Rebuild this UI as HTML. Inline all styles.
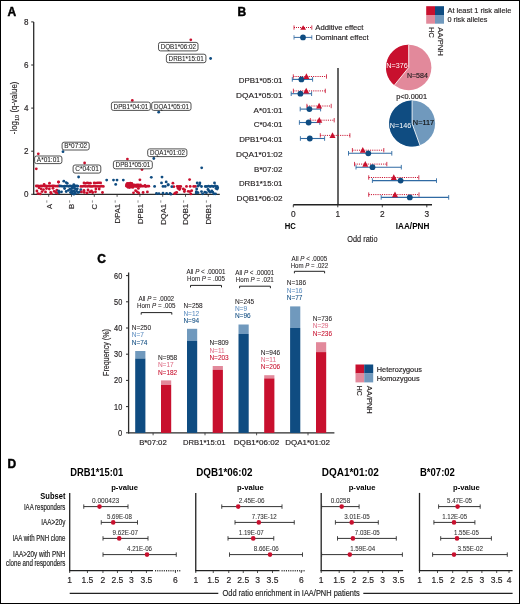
<!DOCTYPE html>
<html><head><meta charset="utf-8"><style>
html,body{margin:0;padding:0;background:#fff;}
svg{display:block;font-family:"Liberation Sans",sans-serif;will-change:transform;}
</style></head><body>
<svg width="520" height="604" viewBox="0 0 520 604">
<rect x="0" y="0" width="520" height="604" fill="#fff"/>
<text x="7.6" y="15.6" font-size="12" font-weight="bold" fill="#000" stroke="#000" stroke-width="0.45">A</text>
<line x1="33.7" y1="21.9" x2="33.7" y2="194.8" stroke="#2b2b2b" stroke-width="1.3"/>
<line x1="31.2" y1="194.3" x2="33.7" y2="194.3" stroke="#2b2b2b" stroke-width="1"/>
<text x="28.5" y="197.0" font-size="9.4" text-anchor="end" textLength="4.5" lengthAdjust="spacingAndGlyphs" fill="#231F20" stroke="#231F20" stroke-width="0.17">0</text>
<line x1="31.2" y1="151.20000000000002" x2="33.7" y2="151.20000000000002" stroke="#2b2b2b" stroke-width="1"/>
<text x="28.5" y="153.9" font-size="9.4" text-anchor="end" textLength="4.5" lengthAdjust="spacingAndGlyphs" fill="#231F20" stroke="#231F20" stroke-width="0.17">2</text>
<line x1="31.2" y1="108.10000000000001" x2="33.7" y2="108.10000000000001" stroke="#2b2b2b" stroke-width="1"/>
<text x="28.5" y="110.80000000000001" font-size="9.4" text-anchor="end" textLength="4.5" lengthAdjust="spacingAndGlyphs" fill="#231F20" stroke="#231F20" stroke-width="0.17">4</text>
<line x1="31.2" y1="65.0" x2="33.7" y2="65.0" stroke="#2b2b2b" stroke-width="1"/>
<text x="28.5" y="67.7" font-size="9.4" text-anchor="end" textLength="4.5" lengthAdjust="spacingAndGlyphs" fill="#231F20" stroke="#231F20" stroke-width="0.17">6</text>
<line x1="31.2" y1="21.900000000000006" x2="33.7" y2="21.900000000000006" stroke="#2b2b2b" stroke-width="1"/>
<text x="28.5" y="24.600000000000005" font-size="9.4" text-anchor="end" textLength="4.5" lengthAdjust="spacingAndGlyphs" fill="#231F20" stroke="#231F20" stroke-width="0.17">8</text>
<line x1="33.1" y1="194.3" x2="219.8" y2="194.3" stroke="#2b2b2b" stroke-width="1.3"/>
<line x1="48.7" y1="194.3" x2="48.7" y2="196.8" stroke="#2b2b2b" stroke-width="0.8"/>
<text transform="translate(51.5,203.9) rotate(-90)" font-size="7.7" text-anchor="end" fill="#231F20" stroke="#231F20" stroke-width="0.15">A</text>
<line x1="46.800000000000004" y1="200.3" x2="46.800000000000004" y2="202.7" stroke="#777" stroke-width="0.8"/>
<line x1="71.5" y1="194.3" x2="71.5" y2="196.8" stroke="#2b2b2b" stroke-width="0.8"/>
<text transform="translate(74.3,203.9) rotate(-90)" font-size="7.7" text-anchor="end" fill="#231F20" stroke="#231F20" stroke-width="0.15">B</text>
<line x1="69.6" y1="200.3" x2="69.6" y2="202.7" stroke="#777" stroke-width="0.8"/>
<line x1="94.30000000000001" y1="194.3" x2="94.30000000000001" y2="196.8" stroke="#2b2b2b" stroke-width="0.8"/>
<text transform="translate(97.1,203.9) rotate(-90)" font-size="7.7" text-anchor="end" fill="#231F20" stroke="#231F20" stroke-width="0.15">C</text>
<line x1="92.4" y1="200.3" x2="92.4" y2="202.7" stroke="#777" stroke-width="0.8"/>
<line x1="117.10000000000001" y1="194.3" x2="117.10000000000001" y2="196.8" stroke="#2b2b2b" stroke-width="0.8"/>
<text transform="translate(119.9,203.9) rotate(-90)" font-size="7.7" text-anchor="end" fill="#231F20" stroke="#231F20" stroke-width="0.15">DPA1</text>
<line x1="115.2" y1="200.3" x2="115.2" y2="202.7" stroke="#777" stroke-width="0.8"/>
<line x1="139.9" y1="194.3" x2="139.9" y2="196.8" stroke="#2b2b2b" stroke-width="0.8"/>
<text transform="translate(142.7,203.9) rotate(-90)" font-size="7.7" text-anchor="end" fill="#231F20" stroke="#231F20" stroke-width="0.15">DPB1</text>
<line x1="138.0" y1="200.3" x2="138.0" y2="202.7" stroke="#777" stroke-width="0.8"/>
<line x1="162.7" y1="194.3" x2="162.7" y2="196.8" stroke="#2b2b2b" stroke-width="0.8"/>
<text transform="translate(165.5,203.9) rotate(-90)" font-size="7.7" text-anchor="end" fill="#231F20" stroke="#231F20" stroke-width="0.15">DQA1</text>
<line x1="160.79999999999998" y1="200.3" x2="160.79999999999998" y2="202.7" stroke="#777" stroke-width="0.8"/>
<line x1="185.5" y1="194.3" x2="185.5" y2="196.8" stroke="#2b2b2b" stroke-width="0.8"/>
<text transform="translate(188.3,203.9) rotate(-90)" font-size="7.7" text-anchor="end" fill="#231F20" stroke="#231F20" stroke-width="0.15">DQB1</text>
<line x1="183.6" y1="200.3" x2="183.6" y2="202.7" stroke="#777" stroke-width="0.8"/>
<line x1="208.3" y1="194.3" x2="208.3" y2="196.8" stroke="#2b2b2b" stroke-width="0.8"/>
<text transform="translate(211.1,203.9) rotate(-90)" font-size="7.7" text-anchor="end" fill="#231F20" stroke="#231F20" stroke-width="0.15">DRB1</text>
<line x1="206.4" y1="200.3" x2="206.4" y2="202.7" stroke="#777" stroke-width="0.8"/>
<text transform="translate(17.4,107.9) rotate(-90)" font-size="8.3" text-anchor="middle" fill="#231F20" stroke="#231F20" stroke-width="0.15" textLength="52.6" lengthAdjust="spacingAndGlyphs">-log<tspan font-size="6" dy="1.6">10</tspan><tspan dy="-1.6"> (q-value)</tspan></text>
<circle cx="36.3" cy="186.0" r="1.42" fill="#C8102E"/>
<circle cx="37.9" cy="186.0" r="1.42" fill="#C8102E"/>
<circle cx="39.5" cy="186.1" r="1.42" fill="#C8102E"/>
<circle cx="41.1" cy="186.0" r="1.42" fill="#C8102E"/>
<circle cx="42.7" cy="186.1" r="1.42" fill="#C8102E"/>
<circle cx="44.3" cy="186.1" r="1.42" fill="#C8102E"/>
<circle cx="45.9" cy="186.0" r="1.42" fill="#C8102E"/>
<circle cx="47.5" cy="186.1" r="1.42" fill="#C8102E"/>
<circle cx="49.1" cy="186.0" r="1.42" fill="#C8102E"/>
<circle cx="50.7" cy="186.1" r="1.42" fill="#C8102E"/>
<circle cx="52.3" cy="186.0" r="1.42" fill="#C8102E"/>
<circle cx="53.9" cy="186.0" r="1.42" fill="#C8102E"/>
<circle cx="55.5" cy="186.1" r="1.42" fill="#C8102E"/>
<circle cx="57.1" cy="186.2" r="1.42" fill="#C8102E"/>
<circle cx="58.7" cy="186.0" r="1.42" fill="#C8102E"/>
<circle cx="44.1" cy="184.4" r="1.42" fill="#C8102E"/>
<circle cx="49.5" cy="183.2" r="1.42" fill="#C8102E"/>
<circle cx="58.5" cy="182.1" r="1.42" fill="#C8102E"/>
<circle cx="36.9" cy="191.0" r="1.42" fill="#C8102E"/>
<circle cx="38.0" cy="193.6" r="1.42" fill="#C8102E"/>
<circle cx="40.3" cy="193.9" r="1.42" fill="#C8102E"/>
<circle cx="42.1" cy="191.6" r="1.42" fill="#C8102E"/>
<circle cx="43.5" cy="189.6" r="1.42" fill="#C8102E"/>
<circle cx="45.5" cy="191.9" r="1.42" fill="#C8102E"/>
<circle cx="49.3" cy="189.0" r="1.42" fill="#C8102E"/>
<circle cx="50.7" cy="192.5" r="1.42" fill="#C8102E"/>
<circle cx="51.3" cy="193.6" r="1.42" fill="#C8102E"/>
<circle cx="54.2" cy="191.3" r="1.42" fill="#C8102E"/>
<circle cx="55.9" cy="192.5" r="1.42" fill="#C8102E"/>
<circle cx="57.7" cy="193.0" r="1.42" fill="#C8102E"/>
<circle cx="46.5" cy="188.5" r="1.42" fill="#C8102E"/>
<circle cx="41.0" cy="188.8" r="1.42" fill="#C8102E"/>
<circle cx="53.0" cy="188.3" r="1.42" fill="#C8102E"/>
<circle cx="56.8" cy="190.2" r="1.42" fill="#C8102E"/>
<circle cx="39.0" cy="187.8" r="1.42" fill="#C8102E"/>
<circle cx="59.8" cy="186.0" r="1.42" fill="#0F4C81"/>
<circle cx="61.5" cy="186.2" r="1.42" fill="#0F4C81"/>
<circle cx="63.2" cy="186.3" r="1.42" fill="#0F4C81"/>
<circle cx="64.9" cy="186.1" r="1.42" fill="#0F4C81"/>
<circle cx="66.6" cy="186.1" r="1.42" fill="#0F4C81"/>
<circle cx="68.3" cy="186.3" r="1.42" fill="#0F4C81"/>
<circle cx="70.0" cy="185.9" r="1.42" fill="#0F4C81"/>
<circle cx="71.7" cy="186.2" r="1.42" fill="#0F4C81"/>
<circle cx="73.4" cy="186.0" r="1.42" fill="#0F4C81"/>
<circle cx="75.1" cy="186.0" r="1.42" fill="#0F4C81"/>
<circle cx="76.8" cy="185.9" r="1.42" fill="#0F4C81"/>
<circle cx="63.8" cy="181.2" r="1.42" fill="#0F4C81"/>
<circle cx="66.2" cy="182.6" r="1.42" fill="#0F4C81"/>
<circle cx="67.3" cy="183.4" r="1.42" fill="#0F4C81"/>
<circle cx="73.8" cy="184.7" r="1.42" fill="#0F4C81"/>
<circle cx="77.8" cy="186.1" r="1.42" fill="#0F4C81"/>
<circle cx="64.6" cy="188.5" r="1.42" fill="#0F4C81"/>
<circle cx="70.0" cy="188.8" r="1.42" fill="#0F4C81"/>
<circle cx="72.2" cy="188.0" r="1.42" fill="#0F4C81"/>
<circle cx="74.3" cy="188.0" r="1.42" fill="#0F4C81"/>
<circle cx="75.4" cy="188.8" r="1.42" fill="#0F4C81"/>
<circle cx="77.3" cy="188.8" r="1.42" fill="#0F4C81"/>
<circle cx="80.8" cy="189.6" r="1.42" fill="#0F4C81"/>
<circle cx="58.7" cy="190.9" r="1.42" fill="#0F4C81"/>
<circle cx="61.5" cy="191.8" r="1.42" fill="#0F4C81"/>
<circle cx="66.2" cy="191.5" r="1.42" fill="#0F4C81"/>
<circle cx="68.4" cy="190.3" r="1.42" fill="#0F4C81"/>
<circle cx="70.5" cy="192.5" r="1.42" fill="#0F4C81"/>
<circle cx="72.2" cy="192.0" r="1.42" fill="#0F4C81"/>
<circle cx="73.8" cy="190.9" r="1.42" fill="#0F4C81"/>
<circle cx="74.8" cy="192.5" r="1.42" fill="#0F4C81"/>
<circle cx="76.5" cy="190.9" r="1.42" fill="#0F4C81"/>
<circle cx="78.0" cy="192.5" r="1.42" fill="#0F4C81"/>
<circle cx="79.7" cy="192.0" r="1.42" fill="#0F4C81"/>
<circle cx="72.2" cy="193.6" r="1.42" fill="#0F4C81"/>
<circle cx="73.8" cy="194.2" r="1.42" fill="#0F4C81"/>
<circle cx="75.4" cy="193.6" r="1.42" fill="#0F4C81"/>
<circle cx="59.2" cy="192.5" r="1.42" fill="#0F4C81"/>
<circle cx="71.5" cy="190.5" r="1.42" fill="#0F4C81"/>
<circle cx="58.5" cy="182.0" r="1.42" fill="#C8102E"/>
<circle cx="84.0" cy="183.0" r="1.42" fill="#C8102E"/>
<circle cx="85.6" cy="183.3" r="1.42" fill="#C8102E"/>
<circle cx="87.2" cy="182.9" r="1.42" fill="#C8102E"/>
<circle cx="88.8" cy="183.2" r="1.42" fill="#C8102E"/>
<circle cx="90.4" cy="183.2" r="1.42" fill="#C8102E"/>
<circle cx="94.2" cy="183.0" r="1.42" fill="#C8102E"/>
<circle cx="95.8" cy="183.1" r="1.42" fill="#C8102E"/>
<circle cx="97.4" cy="182.8" r="1.42" fill="#C8102E"/>
<circle cx="99.0" cy="182.8" r="1.42" fill="#C8102E"/>
<circle cx="100.6" cy="182.9" r="1.42" fill="#C8102E"/>
<circle cx="80.9" cy="186.4" r="1.42" fill="#C8102E"/>
<circle cx="82.5" cy="186.3" r="1.42" fill="#C8102E"/>
<circle cx="84.1" cy="186.2" r="1.42" fill="#C8102E"/>
<circle cx="85.7" cy="186.3" r="1.42" fill="#C8102E"/>
<circle cx="87.3" cy="186.3" r="1.42" fill="#C8102E"/>
<circle cx="88.9" cy="186.2" r="1.42" fill="#C8102E"/>
<circle cx="90.5" cy="186.4" r="1.42" fill="#C8102E"/>
<circle cx="92.1" cy="186.4" r="1.42" fill="#C8102E"/>
<circle cx="93.7" cy="186.2" r="1.42" fill="#C8102E"/>
<circle cx="95.3" cy="186.3" r="1.42" fill="#C8102E"/>
<circle cx="96.9" cy="186.3" r="1.42" fill="#C8102E"/>
<circle cx="98.5" cy="186.4" r="1.42" fill="#C8102E"/>
<circle cx="100.1" cy="186.4" r="1.42" fill="#C8102E"/>
<circle cx="101.7" cy="186.2" r="1.42" fill="#C8102E"/>
<circle cx="103.3" cy="186.4" r="1.42" fill="#C8102E"/>
<circle cx="81.5" cy="191.9" r="1.42" fill="#C8102E"/>
<circle cx="84.3" cy="192.4" r="1.42" fill="#C8102E"/>
<circle cx="87.1" cy="192.9" r="1.42" fill="#C8102E"/>
<circle cx="89.9" cy="191.9" r="1.42" fill="#C8102E"/>
<circle cx="92.7" cy="192.5" r="1.42" fill="#C8102E"/>
<circle cx="95.5" cy="191.8" r="1.42" fill="#C8102E"/>
<circle cx="95.9" cy="189.0" r="1.42" fill="#C8102E"/>
<circle cx="99.2" cy="189.0" r="1.42" fill="#C8102E"/>
<circle cx="102.5" cy="192.5" r="1.42" fill="#C8102E"/>
<circle cx="88.0" cy="190.0" r="1.42" fill="#C8102E"/>
<circle cx="84.0" cy="190.5" r="1.42" fill="#C8102E"/>
<circle cx="91.5" cy="191.0" r="1.42" fill="#C8102E"/>
<circle cx="106.7" cy="180.1" r="1.42" fill="#0F4C81"/>
<circle cx="113.5" cy="180.1" r="1.42" fill="#0F4C81"/>
<circle cx="117.0" cy="180.1" r="1.42" fill="#0F4C81"/>
<circle cx="123.3" cy="180.1" r="1.42" fill="#0F4C81"/>
<circle cx="115.7" cy="184.4" r="1.42" fill="#0F4C81"/>
<circle cx="127.3" cy="183.3" r="1.42" fill="#C8102E"/>
<circle cx="128.8" cy="183.4" r="1.42" fill="#C8102E"/>
<circle cx="130.3" cy="183.2" r="1.42" fill="#C8102E"/>
<circle cx="131.8" cy="183.4" r="1.42" fill="#C8102E"/>
<circle cx="126.5" cy="184.7" r="1.42" fill="#C8102E"/>
<circle cx="128.0" cy="184.9" r="1.42" fill="#C8102E"/>
<circle cx="129.5" cy="184.9" r="1.42" fill="#C8102E"/>
<circle cx="131.0" cy="184.8" r="1.42" fill="#C8102E"/>
<circle cx="132.5" cy="184.8" r="1.42" fill="#C8102E"/>
<circle cx="134.0" cy="185.0" r="1.42" fill="#C8102E"/>
<circle cx="135.5" cy="185.1" r="1.42" fill="#C8102E"/>
<circle cx="137.0" cy="184.8" r="1.42" fill="#C8102E"/>
<circle cx="138.5" cy="184.9" r="1.42" fill="#C8102E"/>
<circle cx="126.3" cy="186.1" r="1.42" fill="#C8102E"/>
<circle cx="127.8" cy="186.5" r="1.42" fill="#C8102E"/>
<circle cx="129.3" cy="186.5" r="1.42" fill="#C8102E"/>
<circle cx="130.8" cy="186.7" r="1.42" fill="#C8102E"/>
<circle cx="132.3" cy="186.6" r="1.42" fill="#C8102E"/>
<circle cx="133.8" cy="186.3" r="1.42" fill="#C8102E"/>
<circle cx="135.3" cy="186.3" r="1.42" fill="#C8102E"/>
<circle cx="136.8" cy="186.5" r="1.42" fill="#C8102E"/>
<circle cx="138.3" cy="186.1" r="1.42" fill="#C8102E"/>
<circle cx="139.8" cy="186.4" r="1.42" fill="#C8102E"/>
<circle cx="141.3" cy="186.2" r="1.42" fill="#C8102E"/>
<circle cx="142.8" cy="186.2" r="1.42" fill="#C8102E"/>
<circle cx="144.3" cy="186.1" r="1.42" fill="#C8102E"/>
<circle cx="145.8" cy="186.6" r="1.42" fill="#C8102E"/>
<circle cx="147.3" cy="186.2" r="1.42" fill="#C8102E"/>
<circle cx="148.8" cy="186.2" r="1.42" fill="#C8102E"/>
<circle cx="128.0" cy="187.3" r="1.42" fill="#C8102E"/>
<circle cx="129.6" cy="187.6" r="1.42" fill="#C8102E"/>
<circle cx="131.2" cy="187.1" r="1.42" fill="#C8102E"/>
<circle cx="132.8" cy="187.4" r="1.42" fill="#C8102E"/>
<circle cx="139.9" cy="179.8" r="1.42" fill="#C8102E"/>
<circle cx="138.4" cy="188.4" r="1.42" fill="#C8102E"/>
<circle cx="133.5" cy="192.8" r="1.42" fill="#C8102E"/>
<circle cx="135.6" cy="190.7" r="1.42" fill="#C8102E"/>
<circle cx="137.3" cy="191.9" r="1.42" fill="#C8102E"/>
<circle cx="138.7" cy="193.0" r="1.42" fill="#C8102E"/>
<circle cx="143.1" cy="192.5" r="1.42" fill="#C8102E"/>
<circle cx="147.4" cy="191.9" r="1.42" fill="#C8102E"/>
<circle cx="140.5" cy="185.0" r="1.42" fill="#C8102E"/>
<circle cx="145.0" cy="185.5" r="1.42" fill="#C8102E"/>
<circle cx="151.3" cy="177.3" r="1.42" fill="#0F4C81"/>
<circle cx="154.6" cy="186.4" r="1.42" fill="#0F4C81"/>
<circle cx="156.5" cy="193.5" r="1.42" fill="#0F4C81"/>
<circle cx="162.0" cy="177.1" r="1.42" fill="#0F4C81"/>
<circle cx="161.5" cy="182.9" r="1.42" fill="#0F4C81"/>
<circle cx="166.2" cy="181.9" r="1.42" fill="#0F4C81"/>
<circle cx="163.0" cy="186.4" r="1.42" fill="#0F4C81"/>
<circle cx="165.2" cy="186.4" r="1.42" fill="#0F4C81"/>
<circle cx="168.0" cy="185.0" r="1.42" fill="#0F4C81"/>
<circle cx="163.0" cy="193.2" r="1.42" fill="#0F4C81"/>
<circle cx="166.6" cy="193.5" r="1.42" fill="#0F4C81"/>
<circle cx="159.0" cy="193.6" r="1.42" fill="#0F4C81"/>
<circle cx="170.0" cy="193.3" r="1.42" fill="#0F4C81"/>
<circle cx="172.9" cy="183.2" r="1.42" fill="#C8102E"/>
<circle cx="173.8" cy="186.7" r="1.42" fill="#C8102E"/>
<circle cx="177.2" cy="186.4" r="1.42" fill="#C8102E"/>
<circle cx="179.0" cy="186.4" r="1.42" fill="#C8102E"/>
<circle cx="180.7" cy="186.4" r="1.42" fill="#C8102E"/>
<circle cx="186.5" cy="186.4" r="1.42" fill="#C8102E"/>
<circle cx="190.2" cy="186.4" r="1.42" fill="#C8102E"/>
<circle cx="193.7" cy="186.4" r="1.42" fill="#C8102E"/>
<circle cx="195.4" cy="186.4" r="1.42" fill="#C8102E"/>
<circle cx="178.1" cy="188.4" r="1.42" fill="#C8102E"/>
<circle cx="179.5" cy="189.6" r="1.42" fill="#C8102E"/>
<circle cx="183.3" cy="189.0" r="1.42" fill="#C8102E"/>
<circle cx="184.7" cy="189.8" r="1.42" fill="#C8102E"/>
<circle cx="184.4" cy="191.6" r="1.42" fill="#C8102E"/>
<circle cx="188.2" cy="191.3" r="1.42" fill="#C8102E"/>
<circle cx="189.9" cy="191.6" r="1.42" fill="#C8102E"/>
<circle cx="191.7" cy="190.7" r="1.42" fill="#C8102E"/>
<circle cx="190.8" cy="193.9" r="1.42" fill="#C8102E"/>
<circle cx="175.5" cy="193.0" r="1.42" fill="#C8102E"/>
<circle cx="176.7" cy="192.4" r="1.42" fill="#C8102E"/>
<circle cx="174.6" cy="193.6" r="1.42" fill="#C8102E"/>
<circle cx="178.5" cy="187.5" r="1.42" fill="#C8102E"/>
<circle cx="180.0" cy="188.5" r="1.42" fill="#C8102E"/>
<circle cx="168.3" cy="184.7" r="1.42" fill="#0F4C81"/>
<circle cx="171.8" cy="186.7" r="1.42" fill="#0F4C81"/>
<circle cx="170.9" cy="194.2" r="1.42" fill="#0F4C81"/>
<circle cx="197.2" cy="183.0" r="1.42" fill="#0F4C81"/>
<circle cx="199.9" cy="183.0" r="1.42" fill="#0F4C81"/>
<circle cx="214.5" cy="183.0" r="1.42" fill="#0F4C81"/>
<circle cx="198.0" cy="186.0" r="1.42" fill="#0F4C81"/>
<circle cx="201.5" cy="186.5" r="1.42" fill="#0F4C81"/>
<circle cx="205.3" cy="186.5" r="1.42" fill="#0F4C81"/>
<circle cx="206.9" cy="186.5" r="1.42" fill="#0F4C81"/>
<circle cx="208.5" cy="186.2" r="1.42" fill="#0F4C81"/>
<circle cx="210.2" cy="186.5" r="1.42" fill="#0F4C81"/>
<circle cx="211.8" cy="186.2" r="1.42" fill="#0F4C81"/>
<circle cx="213.4" cy="186.5" r="1.42" fill="#0F4C81"/>
<circle cx="215.3" cy="186.0" r="1.42" fill="#0F4C81"/>
<circle cx="217.2" cy="186.5" r="1.42" fill="#0F4C81"/>
<circle cx="217.7" cy="187.8" r="1.42" fill="#0F4C81"/>
<circle cx="199.5" cy="185.0" r="1.42" fill="#0F4C81"/>
<circle cx="196.7" cy="188.9" r="1.42" fill="#0F4C81"/>
<circle cx="196.4" cy="191.6" r="1.42" fill="#0F4C81"/>
<circle cx="196.2" cy="193.0" r="1.42" fill="#0F4C81"/>
<circle cx="198.0" cy="192.7" r="1.42" fill="#0F4C81"/>
<circle cx="201.5" cy="191.6" r="1.42" fill="#0F4C81"/>
<circle cx="202.6" cy="193.8" r="1.42" fill="#0F4C81"/>
<circle cx="204.8" cy="192.2" r="1.42" fill="#0F4C81"/>
<circle cx="206.4" cy="192.7" r="1.42" fill="#0F4C81"/>
<circle cx="208.0" cy="189.5" r="1.42" fill="#0F4C81"/>
<circle cx="209.0" cy="191.0" r="1.42" fill="#0F4C81"/>
<circle cx="210.2" cy="192.2" r="1.42" fill="#0F4C81"/>
<circle cx="211.8" cy="191.0" r="1.42" fill="#0F4C81"/>
<circle cx="212.8" cy="192.2" r="1.42" fill="#0F4C81"/>
<circle cx="213.9" cy="193.8" r="1.42" fill="#0F4C81"/>
<circle cx="215.5" cy="193.8" r="1.42" fill="#0F4C81"/>
<circle cx="216.0" cy="188.4" r="1.42" fill="#0F4C81"/>
<circle cx="217.2" cy="189.0" r="1.42" fill="#0F4C81"/>
<circle cx="78.6" cy="177.0" r="1.4" fill="#0F4C81"/>
<circle cx="201.7" cy="167.8" r="1.4" fill="#0F4C81"/>
<circle cx="63.0" cy="151.7" r="1.4" fill="#0F4C81"/>
<circle cx="153.8" cy="158.5" r="1.4" fill="#0F4C81"/>
<circle cx="158.7" cy="112.2" r="1.4" fill="#0F4C81"/>
<circle cx="210.6" cy="58.5" r="1.4" fill="#0F4C81"/>
<circle cx="189.6" cy="179.6" r="1.4" fill="#C8102E"/>
<circle cx="38.3" cy="153.8" r="1.4" fill="#C8102E"/>
<circle cx="36.3" cy="168.8" r="1.4" fill="#C8102E"/>
<circle cx="84.6" cy="163.0" r="1.4" fill="#C8102E"/>
<circle cx="127.4" cy="159.1" r="1.4" fill="#C8102E"/>
<circle cx="142.0" cy="169.5" r="1.4" fill="#C8102E"/>
<circle cx="132.3" cy="100.4" r="1.4" fill="#C8102E"/>
<circle cx="190.8" cy="39.8" r="1.4" fill="#C8102E"/>
<rect x="158.5" y="42.4" width="39.5" height="8.5" rx="2" fill="#fff" stroke="#333" stroke-width="0.85"/>
<text x="178.35" y="49.0" font-size="6.99" text-anchor="middle" textLength="35.3" lengthAdjust="spacingAndGlyphs" fill="#222" stroke="#222" stroke-width="0.07">DQB1*06:02</text>
<rect x="166.4" y="54.2" width="39.5" height="8.5" rx="2" fill="#fff" stroke="#333" stroke-width="0.85"/>
<text x="186.25" y="60.800000000000004" font-size="6.99" text-anchor="middle" textLength="35.3" lengthAdjust="spacingAndGlyphs" fill="#222" stroke="#222" stroke-width="0.07">DRB1*15:01</text>
<rect x="111.4" y="102.1" width="38.900000000000006" height="8.300000000000011" rx="2" fill="#fff" stroke="#333" stroke-width="0.85"/>
<text x="130.95000000000002" y="108.5" font-size="6.99" text-anchor="middle" textLength="34.7" lengthAdjust="spacingAndGlyphs" fill="#222" stroke="#222" stroke-width="0.07">DPB1*04:01</text>
<rect x="151.7" y="102.1" width="39.30000000000001" height="8.300000000000011" rx="2" fill="#fff" stroke="#333" stroke-width="0.85"/>
<text x="171.45" y="108.5" font-size="6.99" text-anchor="middle" textLength="35.1" lengthAdjust="spacingAndGlyphs" fill="#222" stroke="#222" stroke-width="0.07">DQA1*05:01</text>
<rect x="62.1" y="142.2" width="27.1" height="7.800000000000011" rx="2" fill="#fff" stroke="#333" stroke-width="0.85"/>
<text x="75.75" y="148.1" font-size="6.99" text-anchor="middle" textLength="22.9" lengthAdjust="spacingAndGlyphs" fill="#222" stroke="#222" stroke-width="0.07">B*07:02</text>
<rect x="34.6" y="156" width="27.299999999999997" height="7.599999999999994" rx="2" fill="#fff" stroke="#333" stroke-width="0.85"/>
<text x="48.35" y="161.7" font-size="6.99" text-anchor="middle" textLength="23.1" lengthAdjust="spacingAndGlyphs" fill="#222" stroke="#222" stroke-width="0.07">A*01:01</text>
<rect x="73.1" y="165" width="27.700000000000003" height="8.099999999999994" rx="2" fill="#fff" stroke="#333" stroke-width="0.85"/>
<text x="87.04999999999998" y="171.2" font-size="6.99" text-anchor="middle" textLength="23.5" lengthAdjust="spacingAndGlyphs" fill="#222" stroke="#222" stroke-width="0.07">C*04:01</text>
<rect x="147.7" y="148.9" width="39.20000000000002" height="7.699999999999989" rx="2" fill="#fff" stroke="#333" stroke-width="0.85"/>
<text x="167.4" y="154.7" font-size="6.99" text-anchor="middle" textLength="35.0" lengthAdjust="spacingAndGlyphs" fill="#222" stroke="#222" stroke-width="0.07">DQA1*01:02</text>
<rect x="113.4" y="160.8" width="38.900000000000006" height="8.0" rx="2" fill="#fff" stroke="#333" stroke-width="0.85"/>
<text x="132.95000000000002" y="166.9" font-size="6.99" text-anchor="middle" textLength="34.7" lengthAdjust="spacingAndGlyphs" fill="#222" stroke="#222" stroke-width="0.07">DPB1*05:01</text>
<text x="237.6" y="15.7" font-size="12" font-weight="bold" fill="#000" stroke="#000" stroke-width="0.45">B</text>
<line x1="294" y1="27.5" x2="312" y2="27.5" stroke="#C8102E" stroke-width="1" stroke-dasharray="1,1"/>
<line x1="294" y1="25.4" x2="294" y2="29.7" stroke="#C8102E" stroke-width="0.8"/>
<line x1="311.8" y1="25.4" x2="311.8" y2="29.7" stroke="#C8102E" stroke-width="0.8"/>
<polygon points="300.2,29.7 306.1,29.7 303.15,25.2" fill="#C8102E"/>
<text x="315.3" y="29.9" font-size="7.6" textLength="48" lengthAdjust="spacingAndGlyphs" fill="#231F20" stroke="#231F20" stroke-width="0.17">Additive effect</text>
<line x1="294" y1="37.4" x2="312" y2="37.4" stroke="#3a6ea5" stroke-width="1"/>
<line x1="294" y1="35.2" x2="294" y2="39.6" stroke="#3a6ea5" stroke-width="0.8"/>
<line x1="311.8" y1="35.2" x2="311.8" y2="39.6" stroke="#3a6ea5" stroke-width="0.8"/>
<circle cx="303.0" cy="37.4" r="2.9" fill="#0F4C81"/>
<text x="315.5" y="39.9" font-size="7.6" textLength="53" lengthAdjust="spacingAndGlyphs" fill="#231F20" stroke="#231F20" stroke-width="0.17">Dominant effect</text>
<text x="282.5" y="83.10000000000001" font-size="8.1" text-anchor="end" textLength="43.7" lengthAdjust="spacingAndGlyphs" fill="#231F20" stroke="#231F20" stroke-width="0.17">DPB1*05:01</text>
<text x="282.5" y="97.8" font-size="8.1" text-anchor="end" textLength="46.5" lengthAdjust="spacingAndGlyphs" fill="#231F20" stroke="#231F20" stroke-width="0.17">DQA1*05:01</text>
<text x="282.5" y="112.7" font-size="8.1" text-anchor="end" textLength="28.9" lengthAdjust="spacingAndGlyphs" fill="#231F20" stroke="#231F20" stroke-width="0.17">A*01:01</text>
<text x="282.5" y="127.4" font-size="8.1" text-anchor="end" textLength="28.7" lengthAdjust="spacingAndGlyphs" fill="#231F20" stroke="#231F20" stroke-width="0.17">C*04:01</text>
<text x="282.5" y="142.29999999999998" font-size="8.1" text-anchor="end" textLength="43.3" lengthAdjust="spacingAndGlyphs" fill="#231F20" stroke="#231F20" stroke-width="0.17">DPB1*04:01</text>
<text x="282.5" y="157.1" font-size="8.1" text-anchor="end" textLength="46.5" lengthAdjust="spacingAndGlyphs" fill="#231F20" stroke="#231F20" stroke-width="0.17">DQA1*01:02</text>
<text x="282.5" y="171.7" font-size="8.1" text-anchor="end" textLength="28.4" lengthAdjust="spacingAndGlyphs" fill="#231F20" stroke="#231F20" stroke-width="0.17">B*07:02</text>
<text x="282.5" y="186.1" font-size="8.1" text-anchor="end" textLength="43.6" lengthAdjust="spacingAndGlyphs" fill="#231F20" stroke="#231F20" stroke-width="0.17">DRB1*15:01</text>
<text x="282.5" y="200.89999999999998" font-size="8.1" text-anchor="end" textLength="46.0" lengthAdjust="spacingAndGlyphs" fill="#231F20" stroke="#231F20" stroke-width="0.17">DQB1*06:02</text>
<line x1="338" y1="68" x2="338" y2="205" stroke="#555" stroke-width="1.8"/>
<line x1="293.3" y1="76.5" x2="326.5" y2="76.5" stroke="#C8102E" stroke-width="1" stroke-dasharray="1.1,1.1"/>
<line x1="293.3" y1="74.3" x2="293.3" y2="78.7" stroke="#C8102E" stroke-width="0.8"/>
<line x1="326.5" y1="74.3" x2="326.5" y2="78.7" stroke="#C8102E" stroke-width="0.8"/>
<line x1="292.3" y1="79.4" x2="312.6" y2="79.4" stroke="#2f6aa3" stroke-width="1.1"/>
<line x1="292.3" y1="77.10000000000001" x2="292.3" y2="81.7" stroke="#2f6aa3" stroke-width="0.9"/>
<line x1="312.6" y1="77.10000000000001" x2="312.6" y2="81.7" stroke="#2f6aa3" stroke-width="0.9"/>
<circle cx="301.4" cy="79.4" r="2.9" fill="#0F4C81"/>
<polygon points="303.4,79.1 309.4,79.1 306.4,73.3" fill="#C8102E"/>
<line x1="293.4" y1="90.9" x2="325.3" y2="90.9" stroke="#C8102E" stroke-width="1" stroke-dasharray="1.1,1.1"/>
<line x1="293.4" y1="88.7" x2="293.4" y2="93.10000000000001" stroke="#C8102E" stroke-width="0.8"/>
<line x1="325.3" y1="88.7" x2="325.3" y2="93.10000000000001" stroke="#C8102E" stroke-width="0.8"/>
<line x1="291.2" y1="93.7" x2="311.6" y2="93.7" stroke="#2f6aa3" stroke-width="1.1"/>
<line x1="291.2" y1="91.4" x2="291.2" y2="96.0" stroke="#2f6aa3" stroke-width="0.9"/>
<line x1="311.6" y1="91.4" x2="311.6" y2="96.0" stroke="#2f6aa3" stroke-width="0.9"/>
<circle cx="300.4" cy="93.7" r="2.9" fill="#0F4C81"/>
<polygon points="303.2,93.5 309.2,93.5 306.2,87.7" fill="#C8102E"/>
<line x1="306.9" y1="106" x2="331.2" y2="106" stroke="#C8102E" stroke-width="1" stroke-dasharray="1.1,1.1"/>
<line x1="306.9" y1="103.8" x2="306.9" y2="108.2" stroke="#C8102E" stroke-width="0.8"/>
<line x1="331.2" y1="103.8" x2="331.2" y2="108.2" stroke="#C8102E" stroke-width="0.8"/>
<line x1="300.2" y1="109.1" x2="320.6" y2="109.1" stroke="#2f6aa3" stroke-width="1.1"/>
<line x1="300.2" y1="106.8" x2="300.2" y2="111.39999999999999" stroke="#2f6aa3" stroke-width="0.9"/>
<line x1="320.6" y1="106.8" x2="320.6" y2="111.39999999999999" stroke="#2f6aa3" stroke-width="0.9"/>
<circle cx="309.4" cy="109.1" r="2.9" fill="#0F4C81"/>
<polygon points="316.1,108.6 322.1,108.6 319.1,102.8" fill="#C8102E"/>
<line x1="310.3" y1="120.2" x2="334.2" y2="120.2" stroke="#C8102E" stroke-width="1" stroke-dasharray="1.1,1.1"/>
<line x1="310.3" y1="118.0" x2="310.3" y2="122.4" stroke="#C8102E" stroke-width="0.8"/>
<line x1="334.2" y1="118.0" x2="334.2" y2="122.4" stroke="#C8102E" stroke-width="0.8"/>
<line x1="299.4" y1="122.5" x2="319.8" y2="122.5" stroke="#2f6aa3" stroke-width="1.1"/>
<line x1="299.4" y1="120.2" x2="299.4" y2="124.8" stroke="#2f6aa3" stroke-width="0.9"/>
<line x1="319.8" y1="120.2" x2="319.8" y2="124.8" stroke="#2f6aa3" stroke-width="0.9"/>
<circle cx="308.6" cy="122.5" r="2.9" fill="#0F4C81"/>
<polygon points="316.3,122.8 322.3,122.8 319.3,117.0" fill="#C8102E"/>
<line x1="320.3" y1="135.4" x2="349.9" y2="135.4" stroke="#C8102E" stroke-width="1" stroke-dasharray="1.1,1.1"/>
<line x1="320.3" y1="133.20000000000002" x2="320.3" y2="137.6" stroke="#C8102E" stroke-width="0.8"/>
<line x1="349.9" y1="133.20000000000002" x2="349.9" y2="137.6" stroke="#C8102E" stroke-width="0.8"/>
<line x1="300.4" y1="138.5" x2="324.6" y2="138.5" stroke="#2f6aa3" stroke-width="1.1"/>
<line x1="300.4" y1="136.2" x2="300.4" y2="140.8" stroke="#2f6aa3" stroke-width="0.9"/>
<line x1="324.6" y1="136.2" x2="324.6" y2="140.8" stroke="#2f6aa3" stroke-width="0.9"/>
<circle cx="309.8" cy="138.5" r="2.9" fill="#0F4C81"/>
<polygon points="329.5,138.0 335.5,138.0 332.5,132.2" fill="#C8102E"/>
<line x1="352.4" y1="150.2" x2="383.8" y2="150.2" stroke="#C8102E" stroke-width="1" stroke-dasharray="1.1,1.1"/>
<line x1="352.4" y1="148.0" x2="352.4" y2="152.39999999999998" stroke="#C8102E" stroke-width="0.8"/>
<line x1="383.8" y1="148.0" x2="383.8" y2="152.39999999999998" stroke="#C8102E" stroke-width="0.8"/>
<line x1="348.5" y1="153.3" x2="391.8" y2="153.3" stroke="#2f6aa3" stroke-width="1.1"/>
<line x1="348.5" y1="151.0" x2="348.5" y2="155.60000000000002" stroke="#2f6aa3" stroke-width="0.9"/>
<line x1="391.8" y1="151.0" x2="391.8" y2="155.60000000000002" stroke="#2f6aa3" stroke-width="0.9"/>
<circle cx="368.3" cy="153.3" r="2.9" fill="#0F4C81"/>
<polygon points="359.8,152.8 365.8,152.8 362.8,147.0" fill="#C8102E"/>
<line x1="354.5" y1="164.1" x2="386.8" y2="164.1" stroke="#C8102E" stroke-width="1" stroke-dasharray="1.1,1.1"/>
<line x1="354.5" y1="161.9" x2="354.5" y2="166.29999999999998" stroke="#C8102E" stroke-width="0.8"/>
<line x1="386.8" y1="161.9" x2="386.8" y2="166.29999999999998" stroke="#C8102E" stroke-width="0.8"/>
<line x1="356" y1="167.2" x2="401.3" y2="167.2" stroke="#2f6aa3" stroke-width="1.1"/>
<line x1="356" y1="164.89999999999998" x2="356" y2="169.5" stroke="#2f6aa3" stroke-width="0.9"/>
<line x1="401.3" y1="164.89999999999998" x2="401.3" y2="169.5" stroke="#2f6aa3" stroke-width="0.9"/>
<circle cx="372.5" cy="167.2" r="2.9" fill="#0F4C81"/>
<polygon points="362.3,166.7 368.3,166.7 365.3,160.9" fill="#C8102E"/>
<line x1="368.7" y1="177.5" x2="418.8" y2="177.5" stroke="#C8102E" stroke-width="1" stroke-dasharray="1.1,1.1"/>
<line x1="368.7" y1="175.3" x2="368.7" y2="179.7" stroke="#C8102E" stroke-width="0.8"/>
<line x1="418.8" y1="175.3" x2="418.8" y2="179.7" stroke="#C8102E" stroke-width="0.8"/>
<line x1="372.4" y1="180.6" x2="436.5" y2="180.6" stroke="#2f6aa3" stroke-width="1.1"/>
<line x1="372.4" y1="178.29999999999998" x2="372.4" y2="182.9" stroke="#2f6aa3" stroke-width="0.9"/>
<line x1="436.5" y1="178.29999999999998" x2="436.5" y2="182.9" stroke="#2f6aa3" stroke-width="0.9"/>
<circle cx="400.6" cy="180.6" r="2.9" fill="#0F4C81"/>
<polygon points="390.8,180.1 396.8,180.1 393.8,174.3" fill="#C8102E"/>
<line x1="368.7" y1="194.6" x2="419" y2="194.6" stroke="#C8102E" stroke-width="1" stroke-dasharray="1.1,1.1"/>
<line x1="368.7" y1="192.4" x2="368.7" y2="196.79999999999998" stroke="#C8102E" stroke-width="0.8"/>
<line x1="419" y1="192.4" x2="419" y2="196.79999999999998" stroke="#C8102E" stroke-width="0.8"/>
<line x1="381.2" y1="197.4" x2="448.7" y2="197.4" stroke="#2f6aa3" stroke-width="1.1"/>
<line x1="381.2" y1="195.1" x2="381.2" y2="199.70000000000002" stroke="#2f6aa3" stroke-width="0.9"/>
<line x1="448.7" y1="195.1" x2="448.7" y2="199.70000000000002" stroke="#2f6aa3" stroke-width="0.9"/>
<circle cx="409.8" cy="197.4" r="2.9" fill="#0F4C81"/>
<polygon points="392.0,197.2 398.0,197.2 395.0,191.4" fill="#C8102E"/>
<line x1="293.3" y1="204.8" x2="432" y2="204.8" stroke="#222" stroke-width="1.4"/>
<line x1="293.3" y1="204.8" x2="293.3" y2="207.3" stroke="#222" stroke-width="0.9"/>
<text x="293.3" y="217" font-size="8.3" text-anchor="middle" fill="#231F20" stroke="#231F20" stroke-width="0.17">0</text>
<line x1="337.8" y1="204.8" x2="337.8" y2="207.3" stroke="#222" stroke-width="0.9"/>
<text x="337.8" y="217" font-size="8.3" text-anchor="middle" fill="#231F20" stroke="#231F20" stroke-width="0.17">1</text>
<line x1="382.3" y1="204.8" x2="382.3" y2="207.3" stroke="#222" stroke-width="0.9"/>
<text x="382.3" y="217" font-size="8.3" text-anchor="middle" fill="#231F20" stroke="#231F20" stroke-width="0.17">2</text>
<line x1="426.8" y1="204.8" x2="426.8" y2="207.3" stroke="#222" stroke-width="0.9"/>
<text x="426.8" y="217" font-size="8.3" text-anchor="middle" fill="#231F20" stroke="#231F20" stroke-width="0.17">3</text>
<text x="284.8" y="228.6" font-size="8.4" textLength="11.1" lengthAdjust="spacingAndGlyphs" font-weight="bold" fill="#000">HC</text>
<text x="395.8" y="228.5" font-size="8.4" textLength="33.6" lengthAdjust="spacingAndGlyphs" font-weight="bold" fill="#000">IAA/PNH</text>
<text x="347.3" y="241.5" font-size="9.3" textLength="30.2" lengthAdjust="spacingAndGlyphs" fill="#231F20" stroke="#231F20" stroke-width="0.17">Odd ratio</text>
<circle cx="408.7" cy="67.5" r="22.7" fill="#E2899B"/>
<path d="M408.7,67.5 L408.7,44.8 A22.7,22.7 0 0 0 394.41,85.14 Z" fill="#C8102E"/>
<path d="M394.41,85.14 L408.7,67.5 L408.7,44.8" fill="none" stroke="#fff" stroke-width="1" stroke-opacity="0.85"/>
<circle cx="412.1" cy="123.6" r="23" fill="#7099BD"/>
<path d="M412.1,123.6 L412.1,100.6 A23,23 0 1 0 419.91,145.23 Z" fill="#0F4C81"/>
<path d="M419.91,145.23 L412.1,123.6 L412.1,100.6" fill="none" stroke="#fff" stroke-width="1" stroke-opacity="0.85"/>
<text x="397" y="68.2" font-size="7.4" text-anchor="middle" textLength="21.4" lengthAdjust="spacingAndGlyphs" fill="#fff">N=376</text>
<text x="417.4" y="77.6" font-size="7.4" text-anchor="middle" textLength="21" lengthAdjust="spacingAndGlyphs" fill="#231F20" stroke="#231F20" stroke-width="0.17">N=584</text>
<text x="411.6" y="99.3" font-size="8" text-anchor="middle" textLength="30.9" lengthAdjust="spacingAndGlyphs" fill="#231F20" stroke="#231F20" stroke-width="0.17">p&lt;0.0001</text>
<text x="400.5" y="127.7" font-size="7.4" text-anchor="middle" textLength="21.4" lengthAdjust="spacingAndGlyphs" fill="#fff">N=146</text>
<text x="423.5" y="124.8" font-size="7.4" text-anchor="middle" textLength="21.3" lengthAdjust="spacingAndGlyphs" fill="#111" stroke="#111" stroke-width="0.17">N=117</text>
<rect x="426.2" y="6.2" width="8.8" height="8.8" fill="#C8102E"/>
<rect x="435" y="6.2" width="9" height="8.8" fill="#0F4C81"/>
<rect x="426.2" y="15" width="8.8" height="8.7" fill="#E2899B"/>
<rect x="435" y="15" width="9" height="8.7" fill="#7099BD"/>
<text x="447.5" y="12.7" font-size="7.6" textLength="63.8" lengthAdjust="spacingAndGlyphs" fill="#231F20" stroke="#231F20" stroke-width="0.17">At least 1 risk allele</text>
<text x="447.5" y="21.7" font-size="7.6" textLength="39.8" lengthAdjust="spacingAndGlyphs" fill="#231F20" stroke="#231F20" stroke-width="0.17">0 risk alleles</text>
<text transform="translate(429.1,27.3) rotate(90)" font-size="7.2" fill="#231F20" stroke="#231F20" stroke-width="0.15">HC</text>
<text transform="translate(437.6,27.3) rotate(90)" font-size="7.2" fill="#231F20" stroke="#231F20" stroke-width="0.15" textLength="28.5" lengthAdjust="spacingAndGlyphs">AA/PNH</text>
<text x="97.2" y="262.7" font-size="12" font-weight="bold" fill="#000" stroke="#000" stroke-width="0.45">C</text>
<line x1="128.6" y1="272.5" x2="128.6" y2="433.4" stroke="#2b2b2b" stroke-width="1.3"/>
<line x1="126" y1="432.8" x2="128.6" y2="432.8" stroke="#2b2b2b" stroke-width="1"/>
<text x="122.3" y="435.8" font-size="8.4" text-anchor="end" textLength="4.2" lengthAdjust="spacingAndGlyphs" fill="#231F20" stroke="#231F20" stroke-width="0.17">0</text>
<line x1="126" y1="406.6" x2="128.6" y2="406.6" stroke="#2b2b2b" stroke-width="1"/>
<text x="122.3" y="409.6" font-size="8.4" text-anchor="end" textLength="8.2" lengthAdjust="spacingAndGlyphs" fill="#231F20" stroke="#231F20" stroke-width="0.17">10</text>
<line x1="126" y1="380.4" x2="128.6" y2="380.4" stroke="#2b2b2b" stroke-width="1"/>
<text x="122.3" y="383.4" font-size="8.4" text-anchor="end" textLength="8.2" lengthAdjust="spacingAndGlyphs" fill="#231F20" stroke="#231F20" stroke-width="0.17">20</text>
<line x1="126" y1="354.2" x2="128.6" y2="354.2" stroke="#2b2b2b" stroke-width="1"/>
<text x="122.3" y="357.2" font-size="8.4" text-anchor="end" textLength="8.2" lengthAdjust="spacingAndGlyphs" fill="#231F20" stroke="#231F20" stroke-width="0.17">30</text>
<line x1="126" y1="328.0" x2="128.6" y2="328.0" stroke="#2b2b2b" stroke-width="1"/>
<text x="122.3" y="331.0" font-size="8.4" text-anchor="end" textLength="8.2" lengthAdjust="spacingAndGlyphs" fill="#231F20" stroke="#231F20" stroke-width="0.17">40</text>
<line x1="126" y1="301.8" x2="128.6" y2="301.8" stroke="#2b2b2b" stroke-width="1"/>
<text x="122.3" y="304.8" font-size="8.4" text-anchor="end" textLength="8.2" lengthAdjust="spacingAndGlyphs" fill="#231F20" stroke="#231F20" stroke-width="0.17">50</text>
<line x1="126" y1="275.6" x2="128.6" y2="275.6" stroke="#2b2b2b" stroke-width="1"/>
<text x="122.3" y="278.6" font-size="8.4" text-anchor="end" textLength="8.2" lengthAdjust="spacingAndGlyphs" fill="#231F20" stroke="#231F20" stroke-width="0.17">60</text>
<line x1="128" y1="432.9" x2="334.4" y2="432.9" stroke="#2b2b2b" stroke-width="1.3"/>
<text transform="translate(108.6,352.5) rotate(-90)" font-size="8.8" text-anchor="middle" fill="#231F20" stroke="#231F20" stroke-width="0.15" textLength="47" lengthAdjust="spacingAndGlyphs">Frequency (%)</text>
<rect x="135.2" y="351" width="10.2" height="7.5" fill="#7099BD"/>
<rect x="135.2" y="358.5" width="10.2" height="74.39999999999998" fill="#0F4C81"/>
<rect x="161" y="380.4" width="10.2" height="4.600000000000023" fill="#E2899B"/>
<rect x="161" y="385" width="10.2" height="47.89999999999998" fill="#C8102E"/>
<line x1="153.1" y1="432.9" x2="153.1" y2="435.3" stroke="#2b2b2b" stroke-width="0.8"/>
<text x="152.95" y="444.9" font-size="8" text-anchor="middle" textLength="27.6" lengthAdjust="spacingAndGlyphs" fill="#231F20" stroke="#231F20" stroke-width="0.17">B*07:02</text>
<text x="131.7" y="329.79999999999995" font-size="6.5" fill="#231F20" stroke="#231F20" stroke-width="0.07">N=250</text>
<text x="131.7" y="337.15" font-size="6.5" fill="#5f8fc0" stroke="#5f8fc0" stroke-width="0.07">N=7</text>
<text x="131.7" y="344.49999999999994" font-size="6.5" fill="#0F4C81" stroke="#0F4C81" stroke-width="0.07">N=74</text>
<text x="157.9" y="360.0" font-size="6.5" fill="#231F20" stroke="#231F20" stroke-width="0.07">N=958</text>
<text x="157.9" y="367.35" font-size="6.5" fill="#df7088" stroke="#df7088" stroke-width="0.07">N=17</text>
<text x="157.9" y="374.7" font-size="6.5" fill="#C8102E" stroke="#C8102E" stroke-width="0.07">N=182</text>
<rect x="187" y="328.8" width="10.2" height="12.199999999999989" fill="#7099BD"/>
<rect x="187" y="341" width="10.2" height="91.89999999999998" fill="#0F4C81"/>
<rect x="212.7" y="366" width="10.2" height="3.8000000000000114" fill="#E2899B"/>
<rect x="212.7" y="369.8" width="10.2" height="63.099999999999966" fill="#C8102E"/>
<line x1="205" y1="432.9" x2="205" y2="435.3" stroke="#2b2b2b" stroke-width="0.8"/>
<text x="204.25" y="444.9" font-size="8" text-anchor="middle" textLength="42.4" lengthAdjust="spacingAndGlyphs" fill="#231F20" stroke="#231F20" stroke-width="0.17">DRB1*15:01</text>
<text x="183.4" y="308.2" font-size="6.5" fill="#231F20" stroke="#231F20" stroke-width="0.07">N=258</text>
<text x="183.4" y="315.55" font-size="6.5" fill="#5f8fc0" stroke="#5f8fc0" stroke-width="0.07">N=12</text>
<text x="183.4" y="322.9" font-size="6.5" fill="#0F4C81" stroke="#0F4C81" stroke-width="0.07">N=94</text>
<text x="209.4" y="345.2" font-size="6.5" fill="#231F20" stroke="#231F20" stroke-width="0.07">N=809</text>
<text x="209.4" y="352.55" font-size="6.5" fill="#df7088" stroke="#df7088" stroke-width="0.07">N=11</text>
<text x="209.4" y="359.9" font-size="6.5" fill="#C8102E" stroke="#C8102E" stroke-width="0.07">N=203</text>
<rect x="238.5" y="324.5" width="10.2" height="9.5" fill="#7099BD"/>
<rect x="238.5" y="334" width="10.2" height="98.89999999999998" fill="#0F4C81"/>
<rect x="264.2" y="375.2" width="10.2" height="3.1999999999999886" fill="#E2899B"/>
<rect x="264.2" y="378.4" width="10.2" height="54.5" fill="#C8102E"/>
<line x1="256.6" y1="432.9" x2="256.6" y2="435.3" stroke="#2b2b2b" stroke-width="0.8"/>
<text x="256.45" y="444.9" font-size="8" text-anchor="middle" textLength="45.4" lengthAdjust="spacingAndGlyphs" fill="#231F20" stroke="#231F20" stroke-width="0.17">DQB1*06:02</text>
<text x="234.9" y="303.59999999999997" font-size="6.5" fill="#231F20" stroke="#231F20" stroke-width="0.07">N=245</text>
<text x="234.9" y="310.95" font-size="6.5" fill="#5f8fc0" stroke="#5f8fc0" stroke-width="0.07">N=9</text>
<text x="234.9" y="318.29999999999995" font-size="6.5" fill="#0F4C81" stroke="#0F4C81" stroke-width="0.07">N=96</text>
<text x="260.8" y="354.59999999999997" font-size="6.5" fill="#231F20" stroke="#231F20" stroke-width="0.07">N=946</text>
<text x="260.8" y="361.95" font-size="6.5" fill="#df7088" stroke="#df7088" stroke-width="0.07">N=11</text>
<text x="260.8" y="369.29999999999995" font-size="6.5" fill="#C8102E" stroke="#C8102E" stroke-width="0.07">N=206</text>
<rect x="290.1" y="306.4" width="10.2" height="21.600000000000023" fill="#7099BD"/>
<rect x="290.1" y="328" width="10.2" height="104.89999999999998" fill="#0F4C81"/>
<rect x="316" y="342.2" width="10.2" height="9.900000000000034" fill="#E2899B"/>
<rect x="316" y="352.1" width="10.2" height="80.79999999999995" fill="#C8102E"/>
<line x1="308" y1="432.9" x2="308" y2="435.3" stroke="#2b2b2b" stroke-width="0.8"/>
<text x="307.65" y="444.9" font-size="8" text-anchor="middle" textLength="44.6" lengthAdjust="spacingAndGlyphs" fill="#231F20" stroke="#231F20" stroke-width="0.17">DQA1*01:02</text>
<text x="286.7" y="285.4" font-size="6.5" fill="#231F20" stroke="#231F20" stroke-width="0.07">N=186</text>
<text x="286.7" y="292.75" font-size="6.5" fill="#5f8fc0" stroke="#5f8fc0" stroke-width="0.07">N=16</text>
<text x="286.7" y="300.09999999999997" font-size="6.5" fill="#0F4C81" stroke="#0F4C81" stroke-width="0.07">N=77</text>
<text x="312.7" y="320.9" font-size="6.5" fill="#231F20" stroke="#231F20" stroke-width="0.07">N=736</text>
<text x="312.7" y="328.25" font-size="6.5" fill="#df7088" stroke="#df7088" stroke-width="0.07">N=29</text>
<text x="312.7" y="335.59999999999997" font-size="6.5" fill="#C8102E" stroke="#C8102E" stroke-width="0.07">N=236</text>
<text x="156.3" y="301.0" font-size="6.3" text-anchor="middle" textLength="35.6" lengthAdjust="spacingAndGlyphs" fill="#231F20" stroke="#231F20" stroke-width="0.07">All <tspan font-style="italic">P</tspan> = .0002</text>
<text x="156.3" y="308.2" font-size="6.3" text-anchor="middle" textLength="38.4" lengthAdjust="spacingAndGlyphs" fill="#231F20" stroke="#231F20" stroke-width="0.07">Hom <tspan font-style="italic">P</tspan> = .005</text>
<path d="M141.2,314.6 L141.2,312.6 L171.8,312.6 L171.8,314.6" fill="none" stroke="#222" stroke-width="1"/>
<text x="206" y="274.1" font-size="6.3" text-anchor="middle" textLength="38.9" lengthAdjust="spacingAndGlyphs" fill="#231F20" stroke="#231F20" stroke-width="0.07">All <tspan font-style="italic">P</tspan> &lt; .00001</text>
<text x="206" y="281.3" font-size="6.3" text-anchor="middle" textLength="38" lengthAdjust="spacingAndGlyphs" fill="#231F20" stroke="#231F20" stroke-width="0.07">Hom <tspan font-style="italic">P</tspan> = .005</text>
<path d="M190.5,287.4 L190.5,285.4 L221.5,285.4 L221.5,287.4" fill="none" stroke="#222" stroke-width="1"/>
<text x="254.8" y="275.0" font-size="6.3" text-anchor="middle" textLength="39" lengthAdjust="spacingAndGlyphs" fill="#231F20" stroke="#231F20" stroke-width="0.07">All <tspan font-style="italic">P</tspan> &lt; .00001</text>
<text x="254.8" y="282.2" font-size="6.3" text-anchor="middle" textLength="38" lengthAdjust="spacingAndGlyphs" fill="#231F20" stroke="#231F20" stroke-width="0.07">Hom <tspan font-style="italic">P</tspan> = .021</text>
<path d="M239.6,288.2 L239.6,286.2 L270.4,286.2 L270.4,288.2" fill="none" stroke="#222" stroke-width="1"/>
<text x="309.4" y="260.6" font-size="6.3" text-anchor="middle" textLength="35.6" lengthAdjust="spacingAndGlyphs" fill="#231F20" stroke="#231F20" stroke-width="0.07">All <tspan font-style="italic">P</tspan> &lt; .0005</text>
<text x="309.4" y="267.8" font-size="6.3" text-anchor="middle" textLength="37.5" lengthAdjust="spacingAndGlyphs" fill="#231F20" stroke="#231F20" stroke-width="0.07">Hom <tspan font-style="italic">P</tspan> = .022</text>
<path d="M294.4,273.3 L294.4,271.3 L324.6,271.3 L324.6,273.3" fill="none" stroke="#222" stroke-width="1"/>
<rect x="355.5" y="364.5" width="8.7" height="9" fill="#C8102E"/>
<rect x="364.2" y="364.5" width="9" height="9" fill="#0F4C81"/>
<rect x="355.5" y="373.5" width="8.7" height="8.9" fill="#E2899B"/>
<rect x="364.2" y="373.5" width="9" height="8.9" fill="#7099BD"/>
<text x="376.8" y="371.7" font-size="7.6" textLength="45.1" lengthAdjust="spacingAndGlyphs" fill="#231F20" stroke="#231F20" stroke-width="0.17">Heterozygous</text>
<text x="376.8" y="380.6" font-size="7.6" textLength="42.8" lengthAdjust="spacingAndGlyphs" fill="#231F20" stroke="#231F20" stroke-width="0.17">Homozygous</text>
<text transform="translate(357.4,385.8) rotate(90)" font-size="7" fill="#231F20" stroke="#231F20" stroke-width="0.15">HC</text>
<text transform="translate(366.6,385.8) rotate(90)" font-size="7" fill="#231F20" stroke="#231F20" stroke-width="0.15" textLength="28" lengthAdjust="spacingAndGlyphs">AA/PNH</text>
<text x="7.6" y="468.3" font-size="12" font-weight="bold" fill="#000" stroke="#000" stroke-width="0.45">D</text>
<text x="65.4" y="499.3" font-size="8.7" text-anchor="end" textLength="25.1" lengthAdjust="spacingAndGlyphs" font-weight="bold" fill="#000">Subset</text>
<text x="65.4" y="509.7" font-size="8.3" text-anchor="end" textLength="41.5" lengthAdjust="spacingAndGlyphs" fill="#222" stroke="#222" stroke-width="0.17">IAA responders</text>
<text x="65.4" y="524.8" font-size="8.3" text-anchor="end" textLength="24.2" lengthAdjust="spacingAndGlyphs" fill="#222" stroke="#222" stroke-width="0.17">IAA&gt;20y</text>
<text x="65.4" y="541.1" font-size="8.3" text-anchor="end" textLength="52.9" lengthAdjust="spacingAndGlyphs" fill="#222" stroke="#222" stroke-width="0.17">IAA with PNH clone</text>
<text x="65.4" y="557.2" font-size="8.3" text-anchor="end" textLength="52.4" lengthAdjust="spacingAndGlyphs" fill="#222" stroke="#222" stroke-width="0.17">IAA&gt;20y with PNH</text>
<text x="65.4" y="566.4" font-size="8.3" text-anchor="end" textLength="59.3" lengthAdjust="spacingAndGlyphs" fill="#222" stroke="#222" stroke-width="0.17">clone and responders</text>
<text x="70.2" y="475.6" font-size="10.2" textLength="53" lengthAdjust="spacingAndGlyphs" font-weight="bold" fill="#000">DRB1*15:01</text>
<text x="124.6" y="490" font-size="8" text-anchor="middle" textLength="26.8" lengthAdjust="spacingAndGlyphs" font-weight="bold" fill="#000">p-value</text>
<line x1="69.7" y1="492.9" x2="69.7" y2="571.3" stroke="#222" stroke-width="1.3"/>
<line x1="69.10000000000001" y1="570.7" x2="153" y2="570.7" stroke="#222" stroke-width="1.3"/>
<rect x="155" y="570.1" width="1.1" height="1.3" fill="#222"/>
<rect x="157.2" y="570.1" width="1.1" height="1.3" fill="#222"/>
<rect x="159.4" y="570.1" width="1.1" height="1.3" fill="#222"/>
<rect x="161.6" y="570.1" width="1.1" height="1.3" fill="#222"/>
<rect x="163.8" y="570.1" width="1.1" height="1.3" fill="#222"/>
<rect x="166.0" y="570.1" width="1.1" height="1.3" fill="#222"/>
<rect x="168.2" y="570.1" width="1.1" height="1.3" fill="#222"/>
<rect x="170.4" y="570.1" width="1.1" height="1.3" fill="#222"/>
<rect x="172.6" y="570.1" width="1.1" height="1.3" fill="#222"/>
<rect x="174.8" y="570.1" width="1.1" height="1.3" fill="#222"/>
<rect x="177.0" y="570.1" width="1.1" height="1.3" fill="#222"/>
<rect x="179.2" y="570.1" width="1.1" height="1.3" fill="#222"/>
<line x1="69.7" y1="570.7" x2="69.7" y2="573" stroke="#222" stroke-width="0.8"/>
<text x="69.7" y="583.3" font-size="8.5" text-anchor="middle" fill="#231F20" stroke="#231F20" stroke-width="0.17">1</text>
<line x1="87.45" y1="570.7" x2="87.45" y2="573" stroke="#222" stroke-width="0.8"/>
<text x="87.45" y="583.3" font-size="8.5" text-anchor="middle" fill="#231F20" stroke="#231F20" stroke-width="0.17">1.5</text>
<line x1="102.95" y1="570.7" x2="102.95" y2="573" stroke="#222" stroke-width="0.8"/>
<text x="102.95" y="583.3" font-size="8.5" text-anchor="middle" fill="#231F20" stroke="#231F20" stroke-width="0.17">2</text>
<line x1="117.45" y1="570.7" x2="117.45" y2="573" stroke="#222" stroke-width="0.8"/>
<text x="117.45" y="583.3" font-size="8.5" text-anchor="middle" fill="#231F20" stroke="#231F20" stroke-width="0.17">2.5</text>
<line x1="131.45" y1="570.7" x2="131.45" y2="573" stroke="#222" stroke-width="0.8"/>
<text x="131.45" y="583.3" font-size="8.5" text-anchor="middle" fill="#231F20" stroke="#231F20" stroke-width="0.17">3</text>
<line x1="146.45" y1="570.7" x2="146.45" y2="573" stroke="#222" stroke-width="0.8"/>
<text x="146.45" y="583.3" font-size="8.5" text-anchor="middle" fill="#231F20" stroke="#231F20" stroke-width="0.17">3.5</text>
<line x1="175.45" y1="570.7" x2="175.45" y2="573" stroke="#222" stroke-width="0.8"/>
<text x="175.45" y="583.3" font-size="8.5" text-anchor="middle" fill="#231F20" stroke="#231F20" stroke-width="0.17">6</text>
<line x1="83.75" y1="506.6" x2="128" y2="506.6" stroke="#333" stroke-width="1"/>
<line x1="83.75" y1="504.40000000000003" x2="83.75" y2="508.8" stroke="#333" stroke-width="0.9"/>
<line x1="128" y1="504.40000000000003" x2="128" y2="508.8" stroke="#333" stroke-width="0.9"/>
<circle cx="99.5" cy="506.6" r="2.3" fill="#C8102E"/>
<text x="92" y="502.8" font-size="6.5" textLength="27.2" lengthAdjust="spacingAndGlyphs" fill="#333" stroke="#333" stroke-width="0.07">0.000423</text>
<line x1="101.25" y1="522.4" x2="137.5" y2="522.4" stroke="#333" stroke-width="1"/>
<line x1="101.25" y1="520.1999999999999" x2="101.25" y2="524.6" stroke="#333" stroke-width="0.9"/>
<line x1="137.5" y1="520.1999999999999" x2="137.5" y2="524.6" stroke="#333" stroke-width="0.9"/>
<circle cx="113.2" cy="522.4" r="2.3" fill="#C8102E"/>
<text x="107" y="518.6" font-size="6.5" textLength="24.8" lengthAdjust="spacingAndGlyphs" fill="#333" stroke="#333" stroke-width="0.07">5.69E-08</text>
<line x1="103" y1="538.4" x2="148" y2="538.4" stroke="#333" stroke-width="1"/>
<line x1="103" y1="536.1999999999999" x2="103" y2="540.6" stroke="#333" stroke-width="0.9"/>
<line x1="148" y1="536.1999999999999" x2="148" y2="540.6" stroke="#333" stroke-width="0.9"/>
<circle cx="119.2" cy="538.4" r="2.3" fill="#C8102E"/>
<text x="112.5" y="534.6" font-size="6.5" textLength="25.5" lengthAdjust="spacingAndGlyphs" fill="#333" stroke="#333" stroke-width="0.07">9.62E-07</text>
<line x1="103" y1="554.6" x2="176.25" y2="554.6" stroke="#333" stroke-width="1"/>
<line x1="103" y1="552.4" x2="103" y2="556.8000000000001" stroke="#333" stroke-width="0.9"/>
<line x1="176.25" y1="552.4" x2="176.25" y2="556.8000000000001" stroke="#333" stroke-width="0.9"/>
<circle cx="147.0" cy="554.6" r="2.3" fill="#C8102E"/>
<text x="127" y="550.8000000000001" font-size="6.5" textLength="25" lengthAdjust="spacingAndGlyphs" fill="#333" stroke="#333" stroke-width="0.07">4.21E-06</text>
<text x="196.25" y="475.6" font-size="10.2" textLength="56.25" lengthAdjust="spacingAndGlyphs" font-weight="bold" fill="#000">DQB1*06:02</text>
<text x="250.4" y="490" font-size="8" text-anchor="middle" textLength="26.8" lengthAdjust="spacingAndGlyphs" font-weight="bold" fill="#000">p-value</text>
<line x1="195.75" y1="492.9" x2="195.75" y2="571.3" stroke="#222" stroke-width="1.3"/>
<line x1="195.15" y1="570.7" x2="279.5" y2="570.7" stroke="#222" stroke-width="1.3"/>
<rect x="281.5" y="570.1" width="1.1" height="1.3" fill="#222"/>
<rect x="283.7" y="570.1" width="1.1" height="1.3" fill="#222"/>
<rect x="285.9" y="570.1" width="1.1" height="1.3" fill="#222"/>
<rect x="288.1" y="570.1" width="1.1" height="1.3" fill="#222"/>
<rect x="290.3" y="570.1" width="1.1" height="1.3" fill="#222"/>
<rect x="292.5" y="570.1" width="1.1" height="1.3" fill="#222"/>
<rect x="294.7" y="570.1" width="1.1" height="1.3" fill="#222"/>
<rect x="296.9" y="570.1" width="1.1" height="1.3" fill="#222"/>
<rect x="299.1" y="570.1" width="1.1" height="1.3" fill="#222"/>
<rect x="301.3" y="570.1" width="1.1" height="1.3" fill="#222"/>
<rect x="303.5" y="570.1" width="1.1" height="1.3" fill="#222"/>
<line x1="195.75" y1="570.7" x2="195.75" y2="573" stroke="#222" stroke-width="0.8"/>
<text x="195.75" y="583.3" font-size="8.5" text-anchor="middle" fill="#231F20" stroke="#231F20" stroke-width="0.17">1</text>
<line x1="213.25" y1="570.7" x2="213.25" y2="573" stroke="#222" stroke-width="0.8"/>
<text x="213.25" y="583.3" font-size="8.5" text-anchor="middle" fill="#231F20" stroke="#231F20" stroke-width="0.17">1.5</text>
<line x1="228.75" y1="570.7" x2="228.75" y2="573" stroke="#222" stroke-width="0.8"/>
<text x="228.75" y="583.3" font-size="8.5" text-anchor="middle" fill="#231F20" stroke="#231F20" stroke-width="0.17">2</text>
<line x1="243.25" y1="570.7" x2="243.25" y2="573" stroke="#222" stroke-width="0.8"/>
<text x="243.25" y="583.3" font-size="8.5" text-anchor="middle" fill="#231F20" stroke="#231F20" stroke-width="0.17">2.5</text>
<line x1="257.5" y1="570.7" x2="257.5" y2="573" stroke="#222" stroke-width="0.8"/>
<text x="257.5" y="583.3" font-size="8.5" text-anchor="middle" fill="#231F20" stroke="#231F20" stroke-width="0.17">3</text>
<line x1="272.5" y1="570.7" x2="272.5" y2="573" stroke="#222" stroke-width="0.8"/>
<text x="272.5" y="583.3" font-size="8.5" text-anchor="middle" fill="#231F20" stroke="#231F20" stroke-width="0.17">3.5</text>
<line x1="301.25" y1="570.7" x2="301.25" y2="573" stroke="#222" stroke-width="0.8"/>
<text x="301.25" y="583.3" font-size="8.5" text-anchor="middle" fill="#231F20" stroke="#231F20" stroke-width="0.17">6</text>
<line x1="221.75" y1="506.6" x2="282" y2="506.6" stroke="#333" stroke-width="1"/>
<line x1="221.75" y1="504.40000000000003" x2="221.75" y2="508.8" stroke="#333" stroke-width="0.9"/>
<line x1="282" y1="504.40000000000003" x2="282" y2="508.8" stroke="#333" stroke-width="0.9"/>
<circle cx="238.2" cy="506.6" r="2.3" fill="#C8102E"/>
<text x="238.75" y="502.8" font-size="6.5" textLength="25.8" lengthAdjust="spacingAndGlyphs" fill="#333" stroke="#333" stroke-width="0.07">2.45E-06</text>
<line x1="235" y1="522.4" x2="294.25" y2="522.4" stroke="#333" stroke-width="1"/>
<line x1="235" y1="520.1999999999999" x2="235" y2="524.6" stroke="#333" stroke-width="0.9"/>
<line x1="294.25" y1="520.1999999999999" x2="294.25" y2="524.6" stroke="#333" stroke-width="0.9"/>
<circle cx="258.8" cy="522.4" r="2.3" fill="#C8102E"/>
<text x="251.75" y="518.6" font-size="6.5" textLength="25.0" lengthAdjust="spacingAndGlyphs" fill="#333" stroke="#333" stroke-width="0.07">7.73E-12</text>
<line x1="228" y1="538.4" x2="273.75" y2="538.4" stroke="#333" stroke-width="1"/>
<line x1="228" y1="536.1999999999999" x2="228" y2="540.6" stroke="#333" stroke-width="0.9"/>
<line x1="273.75" y1="536.1999999999999" x2="273.75" y2="540.6" stroke="#333" stroke-width="0.9"/>
<circle cx="253.2" cy="538.4" r="2.3" fill="#C8102E"/>
<text x="238.75" y="534.6" font-size="6.5" textLength="25.0" lengthAdjust="spacingAndGlyphs" fill="#333" stroke="#333" stroke-width="0.07">1.19E-07</text>
<line x1="229.5" y1="554.6" x2="302.5" y2="554.6" stroke="#333" stroke-width="1"/>
<line x1="229.5" y1="552.4" x2="229.5" y2="556.8000000000001" stroke="#333" stroke-width="0.9"/>
<line x1="302.5" y1="552.4" x2="302.5" y2="556.8000000000001" stroke="#333" stroke-width="0.9"/>
<circle cx="270.0" cy="554.6" r="2.3" fill="#C8102E"/>
<text x="253.75" y="550.8000000000001" font-size="6.5" textLength="25.0" lengthAdjust="spacingAndGlyphs" fill="#333" stroke="#333" stroke-width="0.07">8.66E-06</text>
<text x="321.7" y="475.6" font-size="10.2" textLength="57.2" lengthAdjust="spacingAndGlyphs" font-weight="bold" fill="#000">DQA1*01:02</text>
<text x="362.1" y="490" font-size="8" text-anchor="middle" textLength="26.8" lengthAdjust="spacingAndGlyphs" font-weight="bold" fill="#000">p-value</text>
<line x1="321.2" y1="492.9" x2="321.2" y2="571.3" stroke="#222" stroke-width="1.3"/>
<line x1="320.59999999999997" y1="570.7" x2="403.1" y2="570.7" stroke="#222" stroke-width="1.3"/>
<line x1="321.2" y1="570.7" x2="321.2" y2="573" stroke="#222" stroke-width="0.8"/>
<text x="321.2" y="583.3" font-size="8.5" text-anchor="middle" fill="#231F20" stroke="#231F20" stroke-width="0.17">1</text>
<line x1="339.2" y1="570.7" x2="339.2" y2="573" stroke="#222" stroke-width="0.8"/>
<text x="339.2" y="583.3" font-size="8.5" text-anchor="middle" fill="#231F20" stroke="#231F20" stroke-width="0.17">1.5</text>
<line x1="354.0" y1="570.7" x2="354.0" y2="573" stroke="#222" stroke-width="0.8"/>
<text x="354.0" y="583.3" font-size="8.5" text-anchor="middle" fill="#231F20" stroke="#231F20" stroke-width="0.17">2</text>
<line x1="368.2" y1="570.7" x2="368.2" y2="573" stroke="#222" stroke-width="0.8"/>
<text x="368.2" y="583.3" font-size="8.5" text-anchor="middle" fill="#231F20" stroke="#231F20" stroke-width="0.17">2.5</text>
<line x1="382.59999999999997" y1="570.7" x2="382.59999999999997" y2="573" stroke="#222" stroke-width="0.8"/>
<text x="382.59999999999997" y="583.3" font-size="8.5" text-anchor="middle" fill="#231F20" stroke="#231F20" stroke-width="0.17">3</text>
<line x1="398.5" y1="570.7" x2="398.5" y2="573" stroke="#222" stroke-width="0.8"/>
<text x="398.5" y="583.3" font-size="8.5" text-anchor="middle" fill="#231F20" stroke="#231F20" stroke-width="0.17">3.5</text>
<line x1="321.6" y1="506.6" x2="359.1" y2="506.6" stroke="#333" stroke-width="1"/>
<line x1="321.6" y1="504.40000000000003" x2="321.6" y2="508.8" stroke="#333" stroke-width="0.9"/>
<line x1="359.1" y1="504.40000000000003" x2="359.1" y2="508.8" stroke="#333" stroke-width="0.9"/>
<circle cx="341.7" cy="506.6" r="2.3" fill="#C8102E"/>
<text x="330.7" y="502.8" font-size="6.5" textLength="19.5" lengthAdjust="spacingAndGlyphs" fill="#333" stroke="#333" stroke-width="0.07">0.0258</text>
<line x1="335.4" y1="522.4" x2="378.3" y2="522.4" stroke="#333" stroke-width="1"/>
<line x1="335.4" y1="520.1999999999999" x2="335.4" y2="524.6" stroke="#333" stroke-width="0.9"/>
<line x1="378.3" y1="520.1999999999999" x2="378.3" y2="524.6" stroke="#333" stroke-width="0.9"/>
<circle cx="351.7" cy="522.4" r="2.3" fill="#C8102E"/>
<text x="344.3" y="518.6" font-size="6.5" textLength="25.4" lengthAdjust="spacingAndGlyphs" fill="#333" stroke="#333" stroke-width="0.07">3.01E-05</text>
<line x1="337.5" y1="538.4" x2="396.3" y2="538.4" stroke="#333" stroke-width="1"/>
<line x1="337.5" y1="536.1999999999999" x2="337.5" y2="540.6" stroke="#333" stroke-width="0.9"/>
<line x1="396.3" y1="536.1999999999999" x2="396.3" y2="540.6" stroke="#333" stroke-width="0.9"/>
<circle cx="352.9" cy="538.4" r="2.3" fill="#C8102E"/>
<text x="354.8" y="534.6" font-size="6.5" textLength="25.0" lengthAdjust="spacingAndGlyphs" fill="#333" stroke="#333" stroke-width="0.07">7.03E-05</text>
<line x1="321.6" y1="554.6" x2="402.4" y2="554.6" stroke="#333" stroke-width="1"/>
<line x1="321.6" y1="552.4" x2="321.6" y2="556.8000000000001" stroke="#333" stroke-width="0.9"/>
<line x1="402.4" y1="552.4" x2="402.4" y2="556.8000000000001" stroke="#333" stroke-width="0.9"/>
<circle cx="349.8" cy="554.6" r="2.3" fill="#C8102E"/>
<text x="350.2" y="550.8000000000001" font-size="6.5" textLength="25.0" lengthAdjust="spacingAndGlyphs" fill="#333" stroke="#333" stroke-width="0.07">1.59E-04</text>
<text x="420.0" y="475.6" font-size="10.2" textLength="34.9" lengthAdjust="spacingAndGlyphs" font-weight="bold" fill="#000">B*07:02</text>
<text x="466.4" y="490" font-size="8" text-anchor="middle" textLength="26.8" lengthAdjust="spacingAndGlyphs" font-weight="bold" fill="#000">p-value</text>
<line x1="419.5" y1="492.9" x2="419.5" y2="571.3" stroke="#222" stroke-width="1.3"/>
<line x1="418.9" y1="570.7" x2="512.6" y2="570.7" stroke="#222" stroke-width="1.3"/>
<line x1="419.5" y1="570.7" x2="419.5" y2="573" stroke="#222" stroke-width="0.8"/>
<text x="419.5" y="583.3" font-size="8.5" text-anchor="middle" fill="#231F20" stroke="#231F20" stroke-width="0.17">1</text>
<line x1="437.5" y1="570.7" x2="437.5" y2="573" stroke="#222" stroke-width="0.8"/>
<text x="437.5" y="583.3" font-size="8.5" text-anchor="middle" fill="#231F20" stroke="#231F20" stroke-width="0.17">1.5</text>
<line x1="452.7" y1="570.7" x2="452.7" y2="573" stroke="#222" stroke-width="0.8"/>
<text x="452.7" y="583.3" font-size="8.5" text-anchor="middle" fill="#231F20" stroke="#231F20" stroke-width="0.17">2</text>
<line x1="467.1" y1="570.7" x2="467.1" y2="573" stroke="#222" stroke-width="0.8"/>
<text x="467.1" y="583.3" font-size="8.5" text-anchor="middle" fill="#231F20" stroke="#231F20" stroke-width="0.17">2.5</text>
<line x1="481.9" y1="570.7" x2="481.9" y2="573" stroke="#222" stroke-width="0.8"/>
<text x="481.9" y="583.3" font-size="8.5" text-anchor="middle" fill="#231F20" stroke="#231F20" stroke-width="0.17">3</text>
<line x1="496.7" y1="570.7" x2="496.7" y2="573" stroke="#222" stroke-width="0.8"/>
<text x="496.7" y="583.3" font-size="8.5" text-anchor="middle" fill="#231F20" stroke="#231F20" stroke-width="0.17">3.5</text>
<line x1="509.0" y1="570.7" x2="509.0" y2="573" stroke="#222" stroke-width="0.8"/>
<text x="509.0" y="583.3" font-size="8.5" text-anchor="middle" fill="#231F20" stroke="#231F20" stroke-width="0.17">4</text>
<line x1="438.6" y1="506.6" x2="480.2" y2="506.6" stroke="#333" stroke-width="1"/>
<line x1="438.6" y1="504.40000000000003" x2="438.6" y2="508.8" stroke="#333" stroke-width="0.9"/>
<line x1="480.2" y1="504.40000000000003" x2="480.2" y2="508.8" stroke="#333" stroke-width="0.9"/>
<circle cx="457.6" cy="506.6" r="2.3" fill="#C8102E"/>
<text x="447" y="502.8" font-size="6.5" textLength="25" lengthAdjust="spacingAndGlyphs" fill="#333" stroke="#333" stroke-width="0.07">5.47E-05</text>
<line x1="433.9" y1="522.4" x2="474.9" y2="522.4" stroke="#333" stroke-width="1"/>
<line x1="433.9" y1="520.1999999999999" x2="433.9" y2="524.6" stroke="#333" stroke-width="0.9"/>
<line x1="474.9" y1="520.1999999999999" x2="474.9" y2="524.6" stroke="#333" stroke-width="0.9"/>
<circle cx="454.0" cy="522.4" r="2.3" fill="#C8102E"/>
<text x="442.2" y="518.6" font-size="6.5" textLength="24.9" lengthAdjust="spacingAndGlyphs" fill="#333" stroke="#333" stroke-width="0.07">1.12E-05</text>
<line x1="440.7" y1="538.4" x2="491.4" y2="538.4" stroke="#333" stroke-width="1"/>
<line x1="440.7" y1="536.1999999999999" x2="440.7" y2="540.6" stroke="#333" stroke-width="0.9"/>
<line x1="491.4" y1="536.1999999999999" x2="491.4" y2="540.6" stroke="#333" stroke-width="0.9"/>
<circle cx="457.0" cy="538.4" r="2.3" fill="#C8102E"/>
<text x="454" y="534.6" font-size="6.5" textLength="24.8" lengthAdjust="spacingAndGlyphs" fill="#333" stroke="#333" stroke-width="0.07">1.55E-05</text>
<line x1="432.6" y1="554.6" x2="507.3" y2="554.6" stroke="#333" stroke-width="1"/>
<line x1="432.6" y1="552.4" x2="432.6" y2="556.8000000000001" stroke="#333" stroke-width="0.9"/>
<line x1="507.3" y1="552.4" x2="507.3" y2="556.8000000000001" stroke="#333" stroke-width="0.9"/>
<circle cx="454.0" cy="554.6" r="2.3" fill="#C8102E"/>
<text x="457.6" y="550.8000000000001" font-size="6.5" textLength="25.4" lengthAdjust="spacingAndGlyphs" fill="#333" stroke="#333" stroke-width="0.07">3.55E-02</text>
<line x1="69.7" y1="593.4" x2="218.3" y2="593.4" stroke="#222" stroke-width="1.1"/>
<text x="222.5" y="596.3" font-size="9.3" textLength="137.2" lengthAdjust="spacingAndGlyphs" fill="#222" stroke="#222" stroke-width="0.17">Odd ratio enrichment in IAA/PNH patients</text>
<line x1="363.3" y1="593.4" x2="512.6" y2="593.4" stroke="#222" stroke-width="1.1"/>
<rect x="0.5" y="0.5" width="519" height="603" fill="none" stroke="#000" stroke-width="1"/>
</svg>
</body></html>
